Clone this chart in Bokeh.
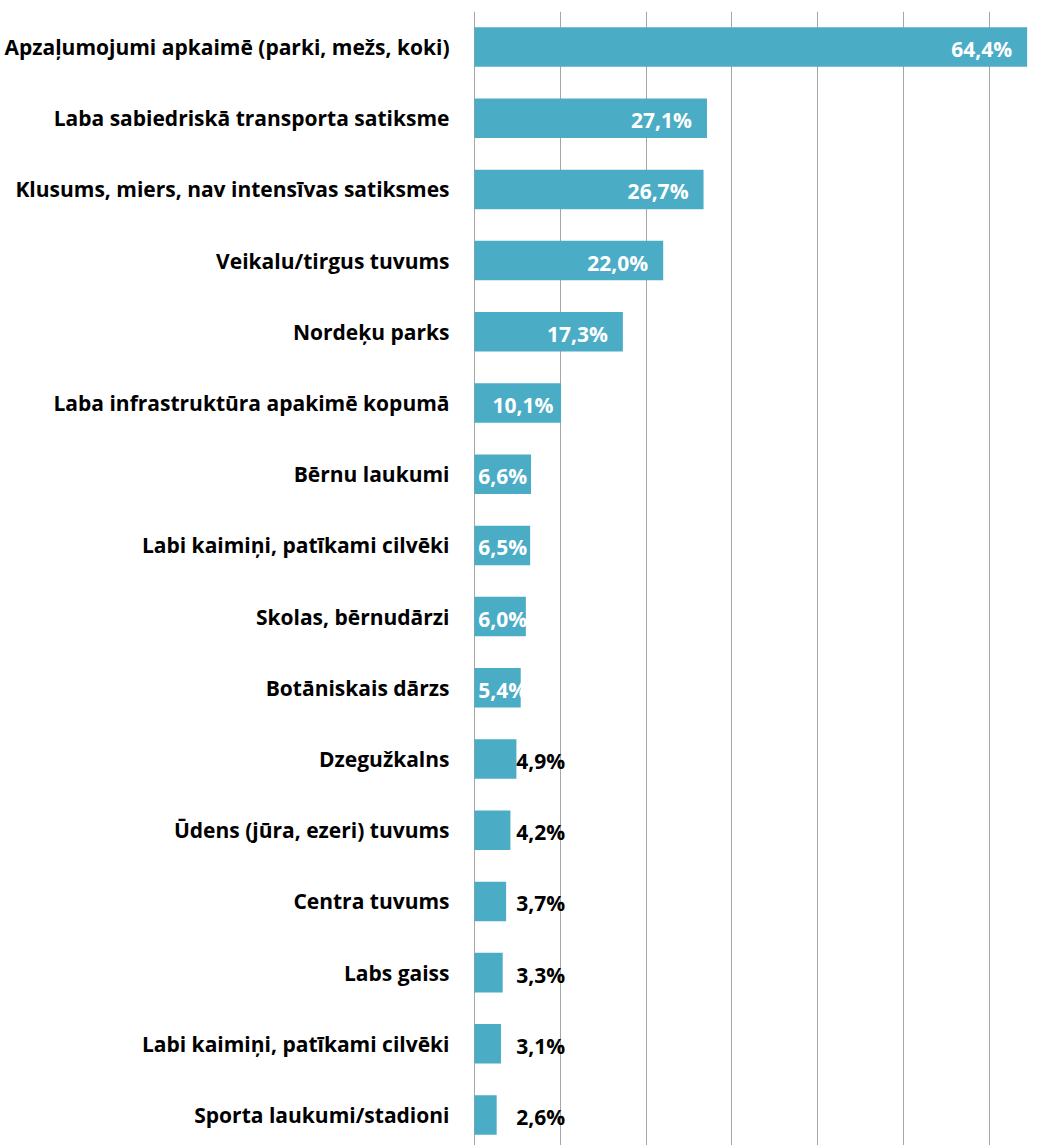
from bokeh.plotting import figure
from bokeh.models import Range1d, FixedTicker, ColumnDataSource
from bokeh.embed import file_html
from bokeh.resources import INLINE
from bokeh.core.properties import value

categories = [
    "Apzaļumojumi apkaimē (parki, mežs, koki)",
    "Laba sabiedriskā transporta satiksme",
    "Klusums, miers, nav intensīvas satiksmes",
    "Veikalu/tirgus tuvums",
    "Nordeķu parks",
    "Laba infrastruktūra apakimē kopumā",
    "Bērnu laukumi",
    "Labi kaimiņi, patīkami cilvēki",
    "Skolas, bērnudārzi",
    "Botāniskais dārzs",
    "Dzegužkalns",
    "Ūdens (jūra, ezeri) tuvums",
    "Centra tuvums",
    "Labs gaiss",
    "Labi kaimiņi, patīkami cilvēki",
    "Sporta laukumi/stadioni",
]
values = [64.4, 27.1, 26.7, 22.0, 17.3, 10.1, 6.6, 6.5, 6.0, 5.4, 4.9, 4.2, 3.7, 3.3, 3.1, 2.6]
grid_ticks = [0, 10, 20, 30, 40, 50, 60]

n = len(categories)
ys = [n - 1 - i for i in range(n)]
texts = [f"{v:.1f}%".replace(".", ",") for v in values]

FONT = "Open Sans"
FSIZE = "21px"
BAR = "#4BACC6"

p = figure(width=1061, height=1145,
           x_range=Range1d(-0.1, 68.4), y_range=Range1d(-0.428, 15.4986),
           output_backend="svg", toolbar_location=None,
           min_border_left=473, min_border_right=0,
           min_border_top=11, min_border_bottom=0)
p.outline_line_color = None
p.background_fill_color = "white"
p.border_fill_color = "white"

p.xaxis.visible = False
p.xgrid.ticker = FixedTicker(ticks=grid_ticks)
p.xgrid.grid_line_color = "#a6a6a6"
p.xgrid.grid_line_width = 1
p.ygrid.visible = False

src = ColumnDataSource(dict(y=ys, v=values, t=texts))
p.hbar(y="y", left=0, right="v", height=0.555, source=src,
       fill_color=BAR, line_color=None)

# white labels inside the longer bars (right-aligned at bar end)
big = [i for i, v in enumerate(values) if v >= 7]
wsrc = ColumnDataSource(dict(
    y=[ys[i] for i in big], x=[values[i] for i in big], t=[texts[i] for i in big],
    off=[-min(15.0, max(0.0, (values[i] - 5) * 1.5)) for i in big]))
p.text(x="x", y="y", text="t", source=wsrc, x_offset="off", y_offset=2,
       text_align="right", text_baseline="middle",
       text_font=value(FONT), text_font_style="bold", text_font_size=FSIZE,
       text_color="white")

# white labels in short bars (start near bar base)
mid = [i for i, v in enumerate(values) if 5 <= v < 7]
msrc = ColumnDataSource(dict(
    y=[ys[i] for i in mid], x=[0] * len(mid), t=[texts[i] for i in mid]))
p.text(x="x", y="y", text="t", source=msrc, x_offset=4, y_offset=2,
       text_align="left", text_baseline="middle",
       text_font=value(FONT), text_font_style="bold", text_font_size=FSIZE,
       text_color="white")

# black labels for small bars
small = [i for i, v in enumerate(values) if v < 5]
bsrc = ColumnDataSource(dict(
    y=[ys[i] for i in small], x=[max(values[i], 5.0) for i in small], t=[texts[i] for i in small]))
p.text(x="x", y="y", text="t", source=bsrc, x_offset=-1, y_offset=2,
       text_align="left", text_baseline="middle",
       text_font=value(FONT), text_font_style="bold", text_font_size=FSIZE,
       text_color="black")

ax = p.yaxis[0]
ax.ticker = FixedTicker(ticks=ys)
ax.major_label_overrides = {y: c for y, c in zip(ys, categories)}
ax.axis_line_color = None
ax.major_tick_line_color = None
ax.minor_tick_line_color = None
ax.major_label_standoff = 18
ax.major_label_text_font = FONT
ax.major_label_text_font_style = "bold"
ax.major_label_text_font_size = FSIZE
ax.major_label_text_color = "black"

open("out.html", "w").write(file_html(p, INLINE))
